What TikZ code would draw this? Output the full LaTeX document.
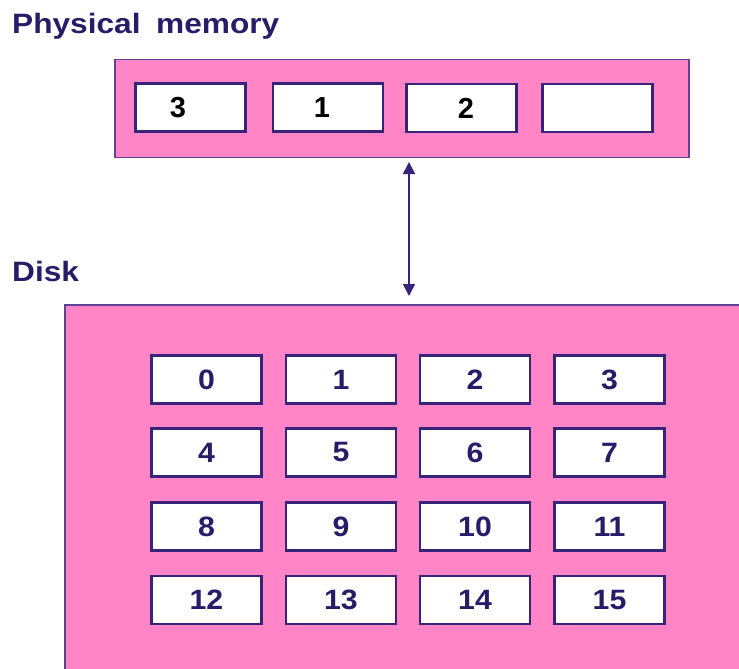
\documentclass[tikz,border=0pt]{standalone}
\usepackage{fontspec}
\setmainfont{Liberation Sans}
\usetikzlibrary{arrows.meta}
\definecolor{pinkfill}{RGB}{255,133,198}
\definecolor{navytext}{RGB}{40,28,105}
\definecolor{navyline}{RGB}{55,35,120}
\definecolor{outerline}{RGB}{95,65,150}
\tikzset{
  outerbox/.style={draw=outerline, line width=1.5pt, fill=pinkfill, rectangle, inner sep=0pt},
  cell/.style={draw=navyline, line width=2.4pt, fill=white, rectangle, inner sep=0pt,
               minimum width=110pt, minimum height=48pt},
  disknum/.style={text=navytext, font=\fontsize{28}{30}\selectfont\bfseries, inner sep=0pt},
  memnum/.style={text=black, font=\fontsize{29}{30}\selectfont\bfseries, inner sep=0pt},
  title/.style={text=navytext, font=\fontsize{28}{32}\selectfont\bfseries, inner sep=0pt, anchor=base west},
  link/.style={draw=navyline, line width=1.5pt, {Triangle[length=12pt,width=12pt]}-{Triangle[length=12pt,width=12pt]}}
}
\begin{document}
\begin{tikzpicture}[x=1pt,y=-1pt]
\useasboundingbox (0,0) rectangle (739,669);
\clip (0,0) rectangle (739,669);
% titles
\node[title] (tmem) at (12,34) {\scalebox{1.13}[1]{Physical\hspace{6pt} memory}};
\node[title] (tdisk) at (12,281) {\scalebox{1.13}[1]{Disk}};
% physical memory
\node[outerbox, minimum width=574pt, minimum height=98pt] (mem) at (402,108.5) {};
\node[cell] (m1) at (190.5,107.5) {};
\node[cell] (m2) at (328,107.5) {};
\node[cell] (m3) at (461.5,108) {};
\node[cell] (m4) at (597.5,108) {};
\node[memnum] (l1) at (178,108) {3};
\node[memnum] (l2) at (322,108) {1};
\node[memnum] (l3) at (466,108) {2};
% disk
\node[outerbox, minimum width=690pt, minimum height=380pt] (disk) at (410,495) {};
\foreach \r/\y in {0/379.5,1/452.5,2/526.5,3/600}{
  \foreach \c/\x in {0/206.5,1/341,2/475,3/609.5}{
    \pgfmathtruncatemacro{\n}{4*\r+\c}
    \node[cell] (d\n) at (\x,\y) {};
    \node[disknum] at (\x,\y) {\scalebox{1.08}[1]{\n}};
  }
}
% arrow
\coordinate (atop) at (409,158);
\coordinate (abot) at (409,305);
\draw[link, shorten <=4pt, shorten >=9pt] (atop) -- (abot);
\end{tikzpicture}
\end{document}
